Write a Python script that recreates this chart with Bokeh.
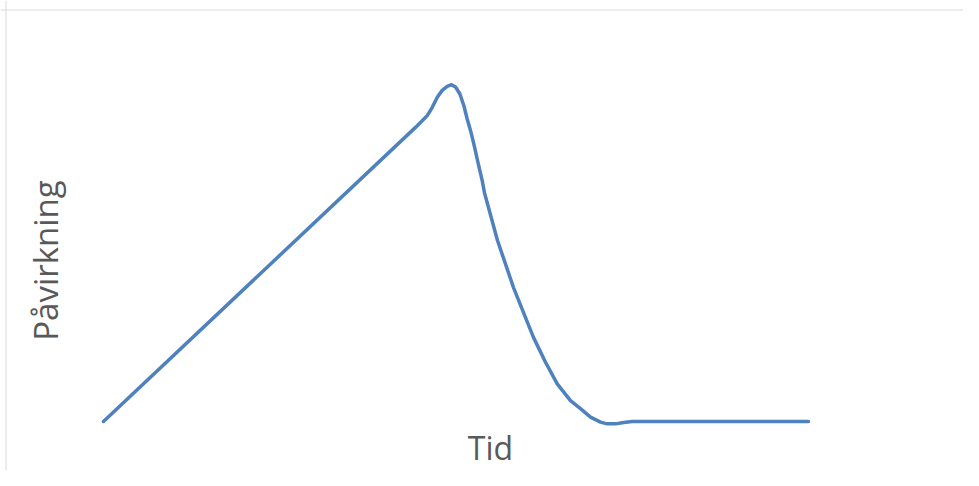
from bokeh.plotting import figure
from bokeh.models import Label, Span, Range1d
from bokeh.embed import file_html
from bokeh.resources import INLINE

# Data (time in arbitrary units, impact ~0..10)
tid = [0, 44.26, 45.21, 45.92, 46.62, 47.33, 48.04, 48.75, 49.36, 49.93,
       50.54, 51.11, 51.59, 52.06, 52.52, 53.05, 53.72, 54.04, 55.89, 58.16,
       60.99, 62.70, 64.36, 66.24, 67.66, 69.08, 70.50, 71.45, 72.62, 73.80,
       74.99, 100]
pavirkning = [0, 8.74, 8.94, 9.09, 9.33, 9.63, 9.84, 9.96, 10.01, 9.94,
              9.74, 9.39, 8.99, 8.65, 8.26, 7.76, 7.16, 6.80, 5.38, 3.98,
              2.50, 1.76, 1.12, 0.62, 0.38, 0.13, -0.02, -0.07, -0.07, -0.03,
              0, 0]
x_title = "Tid"
y_title = "Påvirkning"

W, H = 963, 470
p = figure(width=W, height=H, output_backend="svg", toolbar_location=None,
           x_range=Range1d(-14.61, 121.99), y_range=Range1d(-1.456, 12.511),
           min_border=0, min_border_left=0, min_border_right=0,
           min_border_top=0, min_border_bottom=0)
p.xaxis.visible = False
p.yaxis.visible = False
p.xgrid.visible = False
p.ygrid.visible = False
p.outline_line_color = None
p.background_fill_color = "white"
p.border_fill_color = "white"

p.line(tid, pavirkning, line_color="#4F81BD", line_width=3.5,
       line_join="round", line_cap="round")

# light chart-area border (top and left)
p.add_layout(Span(location=H - 9.5, location_units="screen", dimension="width",
                  line_color="#d9d9d9", line_width=1))
p.add_layout(Span(location=5.5, location_units="screen", dimension="height",
                  line_color="#d9d9d9", line_width=1))

font = "Open Sans"
p.add_layout(Label(x=490, y=23, x_units="screen", y_units="screen", text=x_title,
                   text_font=font, text_font_size="32px", text_color="#595959",
                   text_align="center", text_baseline="alphabetic"))
p.add_layout(Label(x=45, y=210, x_units="screen", y_units="screen", text=y_title,
                   angle=1.5707963, text_font=font, text_font_size="33px",
                   text_color="#595959", text_align="center",
                   text_baseline="alphabetic"))

open("out.html", "w").write(file_html(p, INLINE))
